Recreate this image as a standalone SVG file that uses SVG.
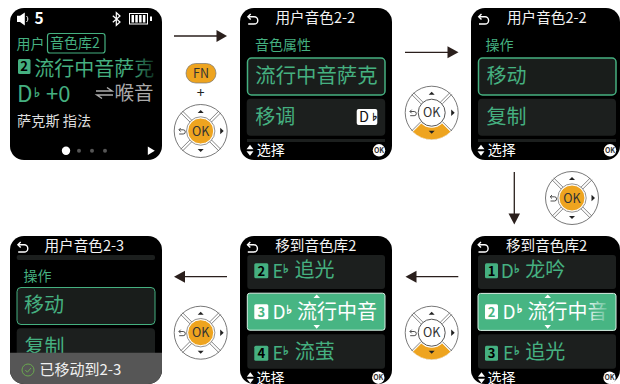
<svg xmlns="http://www.w3.org/2000/svg" width="620" height="384" viewBox="0 0 620 384">
<style>
text{font-family:"Noto Sans CJK SC","Noto Sans",sans-serif;}
.scr{fill:#000}
.g{fill:#45b080}
.w{fill:#fff}
.t15{font-size:14.6px;fill:#f2f2f2}
.t14{font-size:14px}
.t20{font-size:20px}
.sel{fill:#191d1b;stroke:#45b080;stroke-width:1.5}
.item{fill:#1c1f1e}
.hi{fill:#47b583;stroke:#d9f0e5;stroke-width:1}
.bd{fill:#45b080}
.bdt{font-size:13px;font-weight:700;fill:#000;text-anchor:middle}
.fl{font-size:12px;font-family:"DejaVu Sans",sans-serif;stroke-width:.5}
.fl.g{stroke:#45b080}
.fl.w{stroke:#fff}
.conn{stroke:#2a1f1c;stroke-width:1.3;fill:none}
.head{fill:#2a1f1c}
.pad{fill:#fff;stroke:#555;stroke-width:.8}
.or{fill:#eea41f}
.oktxt{font-size:12.5px;fill:#333;text-anchor:middle}
.back{fill:none;stroke:#fff;stroke-width:1.4}
</style>
<defs>
<linearGradient id="fade1" gradientUnits="userSpaceOnUse" x1="130" x2="156" y1="0" y2="0"><stop offset="0" stop-color="#45b080"/><stop offset="1" stop-color="#0c2a1d"/></linearGradient>
<linearGradient id="fade2" gradientUnits="userSpaceOnUse" x1="585" x2="612" y1="0" y2="0"><stop offset="0" stop-color="#fff"/><stop offset="1" stop-color="#47b583"/></linearGradient>
<g id="backIcon"><path class="back" d="M-4.5,-2.2 H1.5 A3.6,3.6 0 0 1 1.5,5 H-4.5"/><path class="back" d="M-2,-5 L-4.8,-2.2 L-2,.6"/></g>
<g id="padBase">
<circle class="pad" r="26.5"/>
<g stroke="#666" stroke-width=".8">
<path d="M-10.8,-9 L-20,-18.2 M-9,-10.8 L-18.2,-20 M10.8,-9 L20,-18.2 M9,-10.8 L18.2,-20 M-10.8,9 L-20,18.2 M-9,10.8 L-18.2,20 M10.8,9 L20,18.2 M9,10.8 L18.2,20"/>
</g>
</g>
<g id="padMarks">
<path fill="#222" d="M-3,-18 L3,-18 L0,-21 Z"/>
<path fill="#222" d="M19.5,-3.2 L19.5,3.2 L23,0 Z"/>
<path d="M-21.5,-1.2 H-17.5 A2,2 0 0 1 -17.5,3 H-21.5 M-20,-3 L-21.8,-1.2 L-20,.6" fill="none" stroke="#222" stroke-width=".8"/>
</g>
<g id="padOk">
<use href="#padBase"/>
<use href="#padMarks"/>
<path fill="#222" d="M-3,18 L3,18 L0,21 Z"/>
<circle r="13" class="or" stroke="#fff" stroke-width="1"/>
<circle r="14.2" fill="none" stroke="#666" stroke-width=".7"/>
<text class="oktxt" y="4.5">OK</text>
</g>
<g id="padDown">
<use href="#padBase"/>
<path class="or" d="M-19,19 A26.5,26.5 0 0 0 19,19 L10.5,10.5 A15,15 0 0 1 -10.5,10.5 Z" stroke="#fff" stroke-width=".6"/>
<use href="#padMarks"/>
<path fill="#222" d="M-3,18 L3,18 L0,21 Z"/>
<circle r="13.5" fill="#fff" stroke="#555" stroke-width="1"/>
<text class="oktxt" y="4.5">OK</text>
</g>
<g id="footer">
<path class="w" d="M-3.5,-1 L3.5,-1 L0,-5.5 Z M-3.5,1 L3.5,1 L0,5.5 Z"/>
</g>
<g id="okBadge"><circle r="6.2" fill="#fff"/><text y="2.5" font-size="7" fill="#333" text-anchor="middle" font-weight="700">OK</text></g>
</defs>

<g id="connectors">
<path class="conn" d="M174,36 H218"/><path class="head" d="M216.5,30 L227,36 L216.5,42 Z"/>
<path class="conn" d="M405,52.3 H449"/><path class="head" d="M447.5,46.3 L458.5,52.3 L447.5,58.3 Z"/>
<path class="conn" d="M514.3,172 V215"/><path class="head" d="M508.5,213.5 L520,213.5 L514.3,224.5 Z"/>
<path class="conn" d="M458.3,276.7 H415"/><path class="head" d="M416.5,270.7 L405.5,276.7 L416.5,282.7 Z"/>
<path class="conn" d="M227,276.7 H184"/><path class="head" d="M185,270.7 L174,276.7 L185,282.7 Z"/>
</g>

<g id="key-fn">
<rect x="186" y="63.5" width="30" height="19.5" rx="9.7" class="or" stroke="#777" stroke-width=".7"/>
<text x="201" y="77.5" font-size="12.5" fill="#333" text-anchor="middle">FN</text>
<text x="200.7" y="98" font-size="14" fill="#222" text-anchor="middle">+</text>
</g>
<use id="pad-1" href="#padOk" x="200.7" y="131"/>
<use id="pad-2" href="#padDown" x="431.7" y="112.7"/>
<use id="pad-3" href="#padOk" x="572" y="198"/>
<use id="pad-4" href="#padDown" x="431.7" y="332.7"/>
<use id="pad-5" href="#padOk" x="200.7" y="332.7"/>

<g id="screen-1">
<rect class="scr" x="10" y="8" width="152" height="152" rx="14"/>
<path class="w" d="M17,15.8 h3 l4.8,-3.4 v13 l-4.8,-3.4 h-3 z"/>
<path d="M26.5,16 a4,4 0 0 1 0,6" fill="none" stroke="#fff" stroke-width="1"/>
<text x="34.5" y="23.5" font-size="15.5" font-weight="700" fill="#fff">5</text>
<path d="M112.8,15.8 L120,22 L116.3,25.3 V12.7 L120,16 L112.8,22.2" fill="none" stroke="#fff" stroke-width="1.2"/>
<rect x="129.5" y="13.5" width="18" height="10.5" fill="none" stroke="#fff" stroke-width="1"/>
<path class="w" d="M131.5,15 h2.5 v7.5 h-2.5z M135.3,15 h2.5 v7.5 h-2.5z M139.1,15 h2.5 v7.5 h-2.5z M142.9,15 h2.5 v7.5 h-2.5z M150,16.5 h2 v4.5 h-2z"/>
<text x="16.5" y="49" class="t14 g">用户</text>
<rect x="47.5" y="33.5" width="57.5" height="19.5" rx="2.5" fill="none" stroke="#45b080" stroke-width="1.2"/>
<text x="50" y="48" class="t14 g">音色库2</text>
<rect class="bd" x="18" y="59" width="12.5" height="15" rx="1.5"/>
<text class="bdt" x="24.2" y="71">2</text>
<text x="34.3" y="75.5" class="t20" fill="url(#fade1)">流行中音萨克</text>
<text x="17" y="101.5" font-size="22.5" class="g">D</text>
<text x="34" y="97" class="fl g" style="font-size:13px">♭</text>
<text x="46" y="101.5" font-size="22" class="g">+0</text>
<path d="M96,91 H112 L107,87.5 M113,95 H97 L102,98.5" fill="none" stroke="#aaa" stroke-width="1.5"/>
<text x="114.5" y="99.5" font-size="19.5" fill="#aaa">喉音</text>
<text x="17" y="126" font-size="14.2" fill="#ddd">萨克斯 指法</text>
<circle class="w" cx="66" cy="150.7" r="4.2"/>
<circle cx="79" cy="150.7" r="2" fill="#555"/>
<circle cx="92" cy="150.7" r="2" fill="#555"/>
<circle cx="105" cy="150.7" r="2" fill="#555"/>
<path class="w" d="M147.8,146.5 L154.8,150.8 L147.8,155 Z"/>
</g>

<g id="screen-2">
<rect class="scr" x="240" y="8" width="152" height="152" rx="14"/>
<use href="#backIcon" x="252.7" y="19"/>
<text x="275.5" y="22.5" class="t15">用户音色2-2</text>
<text x="255" y="49.5" class="t14 g">音色属性</text>
<rect class="sel" x="247.5" y="58" width="137.5" height="37" rx="4"/>
<text x="255.3" y="83" font-size="20.4" class="g">流行中音萨克</text>
<rect class="item" x="246.7" y="98.7" width="138.5" height="37" rx="4"/>
<text x="255.3" y="124.2" class="t20 g">移调</text>
<rect x="356.7" y="109" width="20.6" height="16" rx="2" fill="#fff"/>
<text x="359" y="122" font-size="14.5" fill="#111">D</text>
<text x="370.5" y="119.5" font-size="8" fill="#111" stroke="#111" stroke-width=".4" font-family="DejaVu Sans">♭</text>
<rect class="item" x="247" y="139" width="138" height="3"/>
<use href="#footer" x="250" y="150.3"/>
<text x="256.8" y="154.5" class="t14 w">选择</text>
<use href="#okBadge" x="379" y="150.3"/>
</g>

<g id="screen-3">
<rect class="scr" x="471" y="8" width="149" height="152" rx="14"/>
<use href="#backIcon" x="483.5" y="19"/>
<text x="507" y="22.5" class="t15">用户音色2-2</text>
<text x="485.5" y="49.5" class="t14 g">操作</text>
<rect class="sel" x="478.5" y="58" width="137.5" height="37" rx="4"/>
<text x="486.6" y="83" class="t20 g">移动</text>
<rect class="item" x="478" y="98.7" width="138" height="37" rx="4"/>
<text x="486.6" y="124.2" class="t20 g">复制</text>
<rect class="item" x="478" y="139" width="138" height="3"/>
<use href="#footer" x="481" y="150.3"/>
<text x="487.8" y="154.5" class="t14 w">选择</text>
<use href="#okBadge" x="610" y="150.3"/>
</g>

<g id="screen-4">
<rect class="scr" x="10" y="236" width="152" height="148" rx="14"/>
<use href="#backIcon" x="22.7" y="247"/>
<text x="44.5" y="250.7" class="t15">用户音色2-3</text>
<rect class="item" x="16.7" y="255" width="138.3" height="5" rx="2"/>
<text x="23.5" y="280.5" class="t14 g">操作</text>
<rect x="17" y="287.5" width="138" height="37" rx="4" fill="#191d1b" stroke="#45b080" stroke-width="1"/>
<text x="24" y="312.3" class="t20 g">移动</text>
<rect class="item" x="16.7" y="328.3" width="138.3" height="30" rx="4"/>
<text x="24.5" y="353.5" class="t20 g">复制</text>
<path d="M10,352.7 H162 V370 A14,14 0 0 1 148,384 H24 A14,14 0 0 1 10,370 Z" fill="#565656"/>
<circle cx="28" cy="370" r="6" fill="none" stroke="#6aa84f" stroke-width="1"/>
<path d="M25.3,370 L27.4,372.2 L31,368" fill="none" stroke="#6aa84f" stroke-width="1"/>
<text x="39.5" y="374.5" font-size="15" fill="#f0f0f0">已移动到2-3</text>
</g>

<g id="screen-5">
<rect class="scr" x="240" y="236" width="152" height="148" rx="14"/>
<use href="#backIcon" x="252.3" y="247"/>
<text x="275.2" y="250.7" class="t15">移到音色库2</text>
<rect class="item" x="247.3" y="255" width="137.7" height="34" rx="3"/>
<rect class="bd" x="254.3" y="263.3" width="14" height="15" rx="1.5"/>
<text class="bdt" x="261.3" y="275.5">2</text>
<text x="272.5" y="277.5" font-size="18" class="g">E</text>
<text x="283" y="273" class="fl g">♭</text>
<text x="294.4" y="277.3" class="t20 g">追光</text>
<rect class="hi" x="247.3" y="293.2" width="137.7" height="37" rx="2.5"/>
<path class="w" d="M313.5,298 L320,298 L316.7,294.5 Z M313.5,325 L320,325 L316.7,328.8 Z"/>
<rect x="254.3" y="304.3" width="14" height="15" rx="1.5" fill="#fff"/>
<text class="bdt" x="261.3" y="316.5" style="fill:#47b583">3</text>
<text x="272.5" y="319" font-size="19" class="w">D</text>
<text x="286.2" y="313.5" class="fl w">♭</text>
<text x="297" y="319" font-size="20" class="w">流行中音</text>
<rect class="item" x="247.3" y="334.3" width="137.7" height="34.4" rx="3"/>
<rect class="bd" x="254.3" y="345.7" width="14" height="15" rx="1.5"/>
<text class="bdt" x="261.3" y="357.8">4</text>
<text x="272.5" y="359.5" font-size="18" class="g">E</text>
<text x="283" y="355" class="fl g">♭</text>
<text x="294.8" y="359.3" class="t20 g">流萤</text>
<use href="#footer" x="250.3" y="377.7"/>
<text x="256.5" y="382.5" class="t14 w">选择</text>
<use href="#okBadge" x="378.3" y="377.7"/>
</g>

<g id="screen-6">
<rect class="scr" x="471" y="236" width="149" height="148" rx="14"/>
<use href="#backIcon" x="483" y="247"/>
<text x="506" y="250.7" class="t15">移到音色库2</text>
<rect class="item" x="478" y="255" width="138" height="34" rx="3"/>
<rect class="bd" x="485" y="263.3" width="13" height="15" rx="1.5"/>
<text class="bdt" x="491.5" y="275.5">1</text>
<text x="500.8" y="277.5" font-size="19" class="g">D</text>
<text x="514" y="273" class="fl g">♭</text>
<text x="525.3" y="277.3" class="t20 g">龙吟</text>
<rect class="hi" x="478" y="293.4" width="138" height="37" rx="2.5"/>
<path class="w" d="M544.5,298 L551,298 L547.7,294.5 Z M544.5,325 L551,325 L547.7,328.8 Z"/>
<rect x="485" y="304.3" width="13" height="15" rx="1.5" fill="#fff"/>
<text class="bdt" x="491.5" y="316.5" style="fill:#47b583">2</text>
<text x="502.5" y="319" font-size="19" class="w">D</text>
<text x="516.7" y="312.5" class="fl w">♭</text>
<text x="527.6" y="319" font-size="20" fill="url(#fade2)">流行中音</text>
<rect class="item" x="478" y="334.3" width="138" height="34.4" rx="3"/>
<rect class="bd" x="485" y="345.7" width="13" height="15" rx="1.5"/>
<text class="bdt" x="491.5" y="357.8">3</text>
<text x="503" y="359.5" font-size="18" class="g">E</text>
<text x="514" y="355" class="fl g">♭</text>
<text x="525.3" y="359.3" class="t20 g">追光</text>
<use href="#footer" x="481.5" y="377.7"/>
<text x="487.5" y="382.5" class="t14 w">选择</text>
<use href="#okBadge" x="609.5" y="377.7"/>
</g>
</svg>
